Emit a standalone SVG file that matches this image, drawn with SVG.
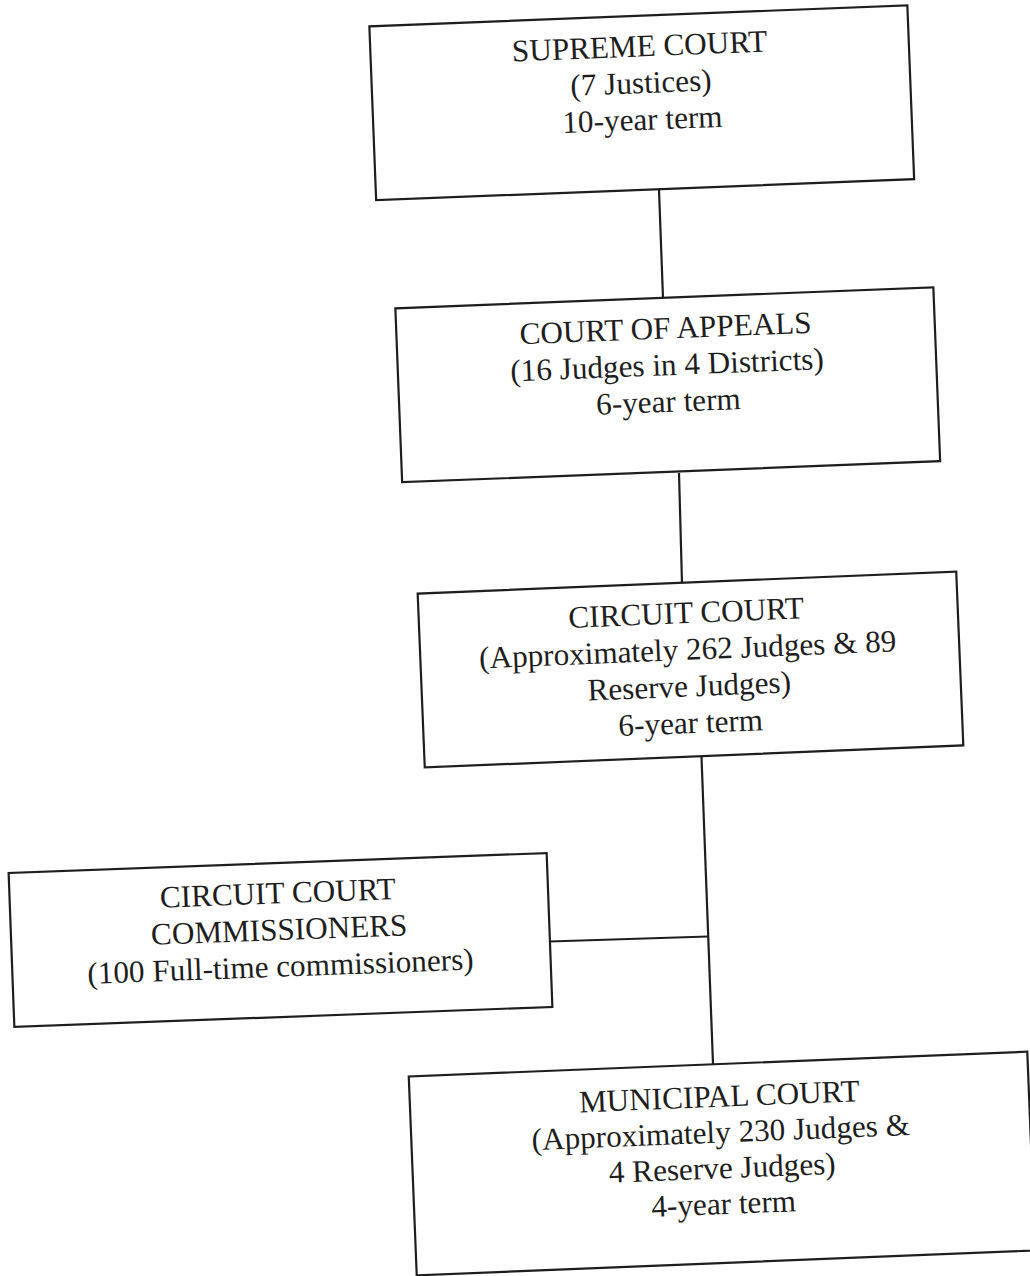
<svg xmlns="http://www.w3.org/2000/svg" width="1030" height="1276" viewBox="0 0 1030 1276">
<style>
.box{fill:#ffffff;stroke:#1e1e1e;stroke-width:2.2}
.t{font-family:"Liberation Serif","Times New Roman",serif;font-size:31.2px;fill:#1e1e1e;text-anchor:middle}
.c{stroke:#1e1e1e;stroke-width:2.2;fill:none}
</style>
<rect x="0" y="0" width="1030" height="1276" fill="#ffffff"/>
<g id="connectors">
<line class="c" x1="659" y1="190" x2="663" y2="298"/>
<line class="c" x1="679" y1="473" x2="682" y2="583"/>
<line class="c" x1="701.5" y1="757" x2="713" y2="1064"/>
<line class="c" x1="549.5" y1="941.5" x2="708" y2="936.5"/>
</g>
<g id="supreme-court" transform="translate(641.75,102.75) rotate(-2.24)">
<rect class="box" x="-269.2" y="-87" width="538.4" height="174"/>
<text class="t" x="0" y="-46.3">SUPREME COURT</text>
<text class="t" x="0" y="-9.6">(7 Justices)</text>
<text class="t" x="0" y="27.1">10-year term</text>
</g>
<g id="court-of-appeals" transform="translate(667.75,384.75) rotate(-2.24)">
<rect class="box" x="-269.2" y="-87" width="538.4" height="174"/>
<text class="t" x="0" y="-46.3">COURT OF APPEALS</text>
<text class="t" x="0" y="-9.6">(16 Judges in 4 Districts)</text>
<text class="t" x="0" y="27.1">6-year term</text>
</g>
<g id="circuit-court" transform="translate(690.5,669.5) rotate(-2.34)">
<rect class="box" x="-269.5" y="-87" width="539" height="174"/>
<text class="t" x="-2" y="-46.5">CIRCUIT COURT</text>
<text class="t" x="-2" y="-9.8">(Approximately 262 Judges &amp; 89</text>
<text class="t" x="-2" y="26.9">Reserve Judges)</text>
<text class="t" x="-2" y="63.6">6-year term</text>
</g>
<g id="circuit-court-commissioners" transform="translate(280.5,940) rotate(-2.13)">
<rect class="box" x="-269.2" y="-77" width="538.4" height="154"/>
<text class="t" x="-1" y="-36.7">CIRCUIT COURT</text>
<text class="t" x="-1" y="0">COMMISSIONERS</text>
<text class="t" x="-1" y="36.7">(100 Full-time commissioners)</text>
</g>
<g id="municipal-court" transform="translate(722,1163.5) rotate(-2.3)">
<rect class="box" x="-309.5" y="-99.5" width="619" height="199"/>
<text class="t" x="0" y="-56.8">MUNICIPAL COURT</text>
<text class="t" x="0" y="-21">(Approximately 230 Judges &amp;</text>
<text class="t" x="0" y="14.8">4 Reserve Judges)</text>
<text class="t" x="0" y="50.6">4-year term</text>
</g>
</svg>
